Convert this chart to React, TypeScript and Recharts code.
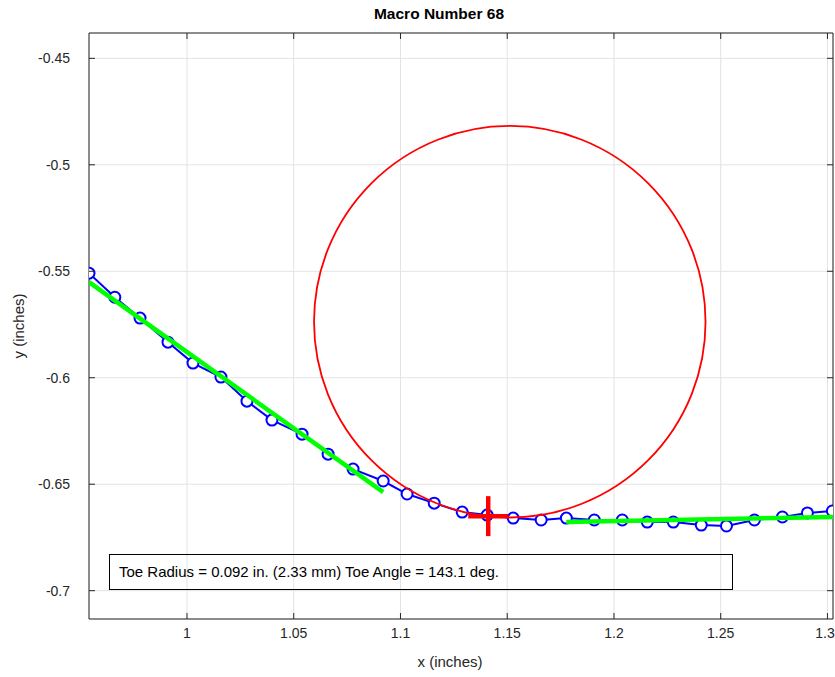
import { ComposedChart, Scatter, XAxis, YAxis, CartesianGrid, ReferenceArea } from "recharts";

const CHART_W = 835;
const CHART_H = 677;
const MARGIN = { top: 33, right: 2, left: 0, bottom: 0 };
const Y_AXIS_W = 89;
const X_AXIS_H = 58;
const PLOT_LEFT = MARGIN.left + Y_AXIS_W;
const PLOT_RIGHT = CHART_W - MARGIN.right;
const PLOT_TOP = MARGIN.top;
const PLOT_W = PLOT_RIGHT - PLOT_LEFT;
const X_TICK_MARGIN = 9;
const Y_TICK_MARGIN = 19;

const AXIS = "#262626";
const FONT = "'Liberation Sans', Arial, Helvetica, sans-serif";

// axis ranges and ticks
const X_DOMAIN = [0.9541, 1.3026];
const Y_DOMAIN = [-0.7133, -0.4381];
const X_TICKS = [1, 1.05, 1.1, 1.15, 1.2, 1.25, 1.3];
const Y_TICKS = [-0.7, -0.65, -0.6, -0.55, -0.5, -0.45];

// measured profile (blue)
const profileX = [
  0.9541, 0.9662, 0.978, 0.9911, 1.0028, 1.0159, 1.0281, 1.0398, 1.0539, 1.0661,
  1.0778, 1.0919, 1.1031, 1.1158, 1.1289, 1.1406, 1.1528, 1.1659, 1.1777, 1.1908,
  1.2039, 1.2156, 1.2278, 1.2409, 1.2527, 1.2658, 1.2789, 1.2906, 1.3023,
];
const profileY = [
  -0.5509, -0.5622, -0.572, -0.5833, -0.5931, -0.5997, -0.611, -0.6199, -0.6265, -0.6359,
  -0.6429, -0.6485, -0.6546, -0.6589, -0.6631, -0.6645, -0.6659, -0.6668, -0.6659, -0.6668,
  -0.6668, -0.6678, -0.6678, -0.6692, -0.6696, -0.6668, -0.6654, -0.6635, -0.6626,
];

// straight-line fits (green)
const fitLeftX = [0.9541, 1.0919];
const fitLeftY = [-0.5551, -0.6537];
const fitRightX = [1.1777, 1.3026];
const fitRightY = [-0.6678, -0.6654];

// toe circle (red)
const toeCenterX = 1.1512;
const toeCenterY = -0.5737;
const toeRadius = 0.0917;
const toePointX = 1.1411;
const toePointY = -0.665;

const toXY = (xs: number[], ys: number[]) => xs.map((x, i) => ({ x, y: ys[i] }));

const profileData = toXY(profileX, profileY);
const fitLeftData = toXY(fitLeftX, fitLeftY);
const fitRightData = toXY(fitRightX, fitRightY);
const toeCenterData = [{ x: toeCenterX, y: toeCenterY }];
const toePointData = [{ x: toePointX, y: toePointY }];

const pxPerX = PLOT_W / (X_DOMAIN[1] - X_DOMAIN[0]);

const XTick = (props: any) => {
  const { x, y, payload } = props;
  const axisY = y - X_TICK_MARGIN;
  // keep the last label inside the canvas
  const labelX = Math.min(x, CHART_W - 10);
  return (
    <g>
      <line x1={x} x2={x} y1={axisY} y2={axisY - 6} stroke={AXIS} />
      <line x1={x} x2={x} y1={PLOT_TOP} y2={PLOT_TOP + 6} stroke={AXIS} />
      <text x={labelX} y={y} dy="0.72em" textAnchor="middle" fontSize={14} fill={AXIS} fontFamily={FONT}>
        {String(payload.value)}
      </text>
    </g>
  );
};

const YTick = (props: any) => {
  const { x, y, payload } = props;
  const axisX = x + Y_TICK_MARGIN;
  return (
    <g>
      <line x1={axisX} x2={axisX + 6} y1={y} y2={y} stroke={AXIS} />
      <line x1={PLOT_RIGHT} x2={PLOT_RIGHT - 6} y1={y} y2={y} stroke={AXIS} />
      <text x={x} y={y} dy="0.35em" textAnchor="end" fontSize={14} fill={AXIS} fontFamily={FONT}>
        {String(payload.value)}
      </text>
    </g>
  );
};

const OpenCircle = (props: any) => (
  <circle cx={props.cx} cy={props.cy} r={5.5} fill="#fff" stroke="#0000ff" strokeWidth={2} />
);

const NoMarker = () => <g />;

const ToeCircle = (props: any) => (
  <circle cx={props.cx} cy={props.cy} r={toeRadius * pxPerX} fill="none" stroke="#ff0000" strokeWidth={1.8} />
);

const ToeCross = (props: any) => (
  <g stroke="#ff0000" strokeWidth={4.5}>
    <line x1={props.cx} x2={props.cx} y1={props.cy - 20} y2={props.cy + 20} />
    <line x1={props.cx - 20} x2={props.cx + 20} y1={props.cy} y2={props.cy} />
  </g>
);

export default function App() {
  return (
    <div style={{ position: "absolute", left: 0, top: 0, width: CHART_W, height: CHART_H, background: "#fff", fontFamily: FONT }}>
      <ComposedChart width={CHART_W} height={CHART_H} margin={MARGIN}>
        <CartesianGrid stroke="#e3e3e3" />
        <XAxis
          type="number"
          dataKey="x"
          domain={X_DOMAIN}
          ticks={X_TICKS}
          interval={0}
          allowDataOverflow
          height={X_AXIS_H}
          axisLine={false}
          tickLine={false}
          tickSize={0}
          tickMargin={X_TICK_MARGIN}
          tick={<XTick />}
        />
        <YAxis
          type="number"
          dataKey="y"
          domain={Y_DOMAIN}
          ticks={Y_TICKS}
          interval={0}
          allowDataOverflow
          width={Y_AXIS_W}
          axisLine={false}
          tickLine={false}
          tickSize={0}
          tickMargin={Y_TICK_MARGIN}
          tick={<YTick />}
        />
        <ReferenceArea
          x1={X_DOMAIN[0]}
          x2={X_DOMAIN[1]}
          y1={Y_DOMAIN[0]}
          y2={Y_DOMAIN[1]}
          fill="#fff"
          fillOpacity={0}
          stroke={AXIS}
          strokeWidth={1}
        />
        <Scatter
          data={profileData}
          line={{ stroke: "#0000ff", strokeWidth: 2 }}
          shape={<OpenCircle />}
          isAnimationActive={false}
        />
        <Scatter
          data={fitLeftData}
          line={{ stroke: "#00ff00", strokeWidth: 4.5 }}
          shape={<NoMarker />}
          isAnimationActive={false}
        />
        <Scatter
          data={fitRightData}
          line={{ stroke: "#00ff00", strokeWidth: 4.5 }}
          shape={<NoMarker />}
          isAnimationActive={false}
        />
        <Scatter data={toeCenterData} shape={<ToeCircle />} isAnimationActive={false} />
        <Scatter data={toePointData} shape={<ToeCross />} isAnimationActive={false} />
      </ComposedChart>

      <div style={{ position: "absolute", top: 5, left: 339, width: 200, textAlign: "center", fontSize: 15.5, fontWeight: "bold", color: "#000" }}>
        Macro Number 68
      </div>
      <div style={{ position: "absolute", top: 653, left: 350, width: 200, textAlign: "center", fontSize: 15, color: AXIS }}>
        x (inches)
      </div>
      <div
        style={{
          position: "absolute",
          left: 18,
          top: 326,
          transform: "translate(-50%, -50%) rotate(-90deg)",
          fontSize: 15,
          color: AXIS,
          whiteSpace: "nowrap",
        }}
      >
        y (inches)
      </div>
      <div
        style={{
          position: "absolute",
          left: 109,
          top: 554,
          width: 624,
          height: 36,
          boxSizing: "border-box",
          border: "1px solid #000",
          paddingLeft: 9,
          fontSize: 15,
          lineHeight: "33px",
          color: "#000",
          whiteSpace: "nowrap",
        }}
      >
        Toe Radius = 0.092 in. (2.33 mm) Toe Angle = 143.1 deg.
      </div>
    </div>
  );
}
